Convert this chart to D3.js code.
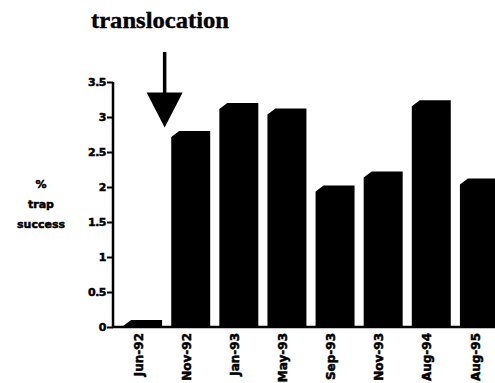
<!DOCTYPE html>
<html>
<head>
<meta charset="utf-8">
<script src="https://cdn.jsdelivr.net/npm/d3@7"></script>
<style>
    body { margin: 0; background: white; }
    svg { display: block; }
</style>
</head>
<body>
<div id="canvas"></div>
<script>
"use strict"

let svgWidth = 495
let svgHeight = 383

// trap success per sampling date
let dates = ["Jun-92", "Nov-92", "Jan-93", "May-93", "Sep-93", "Nov-93", "Aug-94", "Aug-95"]
let trapSuccess = [0.1, 2.8, 3.2, 3.12, 2.02, 2.22, 3.24, 2.12]
let yTicks = [0, 0.5, 1, 1.5, 2, 2.5, 3, 3.5]
let yLabelLines = ["%", "trap", "success"]
let title = "translocation"

let svg = d3.select("#canvas")
    .append("svg")
    .attr("width", svgWidth)
    .attr("height", svgHeight)

let xScale = d3.scaleBand()
    .domain(dates)
    .range([113, 509])
    .paddingInner(0.19)
    .paddingOuter(0.21)

let yScale = d3.scaleLinear()
    .domain([0, 3.5])
    .range([327, 82])

/* bars with the little cut on the top left corner */
svg.selectAll("path.bar")
    .data(dates)
    .enter()
    .append("path")
    .attr("class", "bar")
    .attr("d", function (d, i) {
        let x0 = xScale(d)
        let x1 = x0 + xScale.bandwidth()
        let y0 = yScale(0)
        let top = yScale(trapSuccess[i])
        let c = Math.min(6, y0 - top)
        return `M${x0},${y0} L${x0},${top + c} L${x0 + c + 2},${top} L${x1},${top} L${x1},${y0} Z`
    })
    .attr("fill", "black")

/* Y axis */
let yAxis = svg.append("g")
    .attr("transform", `translate(${xScale.range()[0]},0)`)
    .call(d3.axisLeft(yScale).tickValues(yTicks).tickSize(6).tickPadding(1).tickFormat(d3.format("")))

yAxis.select(".domain")
    .attr("stroke-width", 2.5)
    .attr("d", `M0,${yScale(3.5)}V${yScale(0)}`)
yAxis.selectAll(".tick line").attr("stroke-width", 2)
yAxis.selectAll("text")
    .attr("font-family", "DejaVu Sans")
    .attr("font-weight", "bold")
    .attr("font-size", 11)
    .attr("letter-spacing", -0.5)
    .attr("fill", "black")
    .attr("stroke", "black")
    .attr("stroke-width", 0.5)

/* X axis */
let xAxis = svg.append("g")
    .attr("transform", `translate(0,${yScale(0)})`)
    .call(d3.axisBottom(xScale).tickSize(0).tickPadding(0))

xAxis.select(".domain")
    .attr("stroke-width", 2.5)
    .attr("d", `M${xScale.range()[0]},0H${svgWidth}`)
xAxis.selectAll("text")
    .attr("font-family", "DejaVu Sans")
    .attr("font-weight", "bold")
    .attr("font-size", 12)
    .attr("fill", "black")
    .attr("stroke", "black")
    .attr("stroke-width", 0.5)
    .attr("text-anchor", "end")
    .attr("transform", "rotate(-90)")
    .attr("x", -6)
    .attr("y", -4)
    .attr("dy", "0.35em")

/* Y axis label, three lines */
svg.append("g")
    .selectAll("text")
    .data(yLabelLines)
    .enter()
    .append("text")
    .attr("x", 41)
    .attr("y", function (d, i) { return 188 + i * 20 })
    .attr("text-anchor", "middle")
    .attr("font-family", "DejaVu Sans")
    .attr("font-weight", "bold")
    .attr("font-size", 11)
    .attr("stroke", "black")
    .attr("stroke-width", 0.5)
    .text(function (d) { return d })

/* title */
svg.append("text")
    .attr("x", 91)
    .attr("y", 28)
    .attr("font-family", "Liberation Serif")
    .attr("font-weight", "bold")
    .attr("font-size", 23)
    .attr("stroke", "black")
    .attr("stroke-width", 0.4)
    .attr("textLength", 138)
    .attr("lengthAdjust", "spacingAndGlyphs")
    .text(title)

/* arrow pointing at the gap before the translocation */
let arrowX = xScale(dates[1]) - xScale.step() * xScale.paddingInner() / 2 - 2
let arrowTip = yScale(2.85)

svg.append("line")
    .attr("x1", arrowX)
    .attr("x2", arrowX)
    .attr("y1", 52)
    .attr("y2", arrowTip - 30)
    .attr("stroke", "black")
    .attr("stroke-width", 3.5)

svg.append("path")
    .attr("d", `M${arrowX - 18},${arrowTip - 35} L${arrowX + 18},${arrowTip - 35} L${arrowX},${arrowTip} Z`)
    .attr("fill", "black")
</script>
</body>
</html>
